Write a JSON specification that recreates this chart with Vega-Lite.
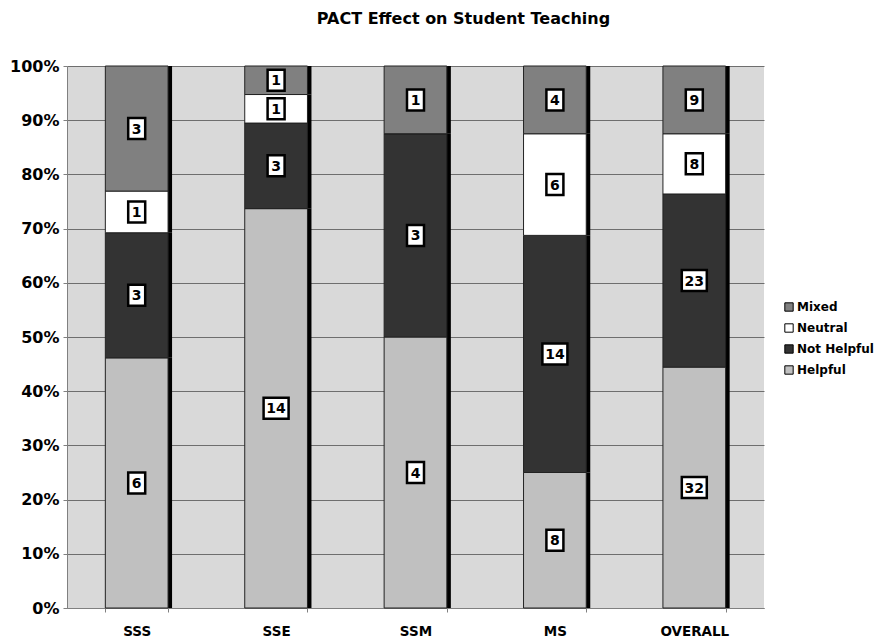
{
  "$schema": "https://vega.github.io/schema/vega-lite/v6.json",
  "width": 697,
  "height": 542,
  "autosize": {"type": "none"},
  "padding": {"left": 67, "top": 66, "right": 111, "bottom": 31},
  "background": "white",
  "title": {"text": "PACT Effect on Student Teaching", "anchor": "middle", "dx": 48, "offset": 31, "font": "DejaVu Sans", "fontSize": 16, "fontWeight": "bold", "color": "black"},
  "config": {
    "view": {"fill": "#d9d9d9", "stroke": null},
    "axis": {"labelFont": "DejaVu Sans", "labelFontWeight": "bold", "labelColor": "black", "titleColor": "black"}
  },
  "data": {"values": [
    {"cat": "SSS", "resp": "Helpful", "n": 6, "ord": 1},
    {"cat": "SSS", "resp": "Not Helpful", "n": 3, "ord": 2},
    {"cat": "SSS", "resp": "Neutral", "n": 1, "ord": 3},
    {"cat": "SSS", "resp": "Mixed", "n": 3, "ord": 4},
    {"cat": "SSE", "resp": "Helpful", "n": 14, "ord": 1},
    {"cat": "SSE", "resp": "Not Helpful", "n": 3, "ord": 2},
    {"cat": "SSE", "resp": "Neutral", "n": 1, "ord": 3},
    {"cat": "SSE", "resp": "Mixed", "n": 1, "ord": 4},
    {"cat": "SSM", "resp": "Helpful", "n": 4, "ord": 1},
    {"cat": "SSM", "resp": "Not Helpful", "n": 3, "ord": 2},
    {"cat": "SSM", "resp": "Neutral", "n": 0, "ord": 3},
    {"cat": "SSM", "resp": "Mixed", "n": 1, "ord": 4},
    {"cat": "MS", "resp": "Helpful", "n": 8, "ord": 1},
    {"cat": "MS", "resp": "Not Helpful", "n": 14, "ord": 2},
    {"cat": "MS", "resp": "Neutral", "n": 6, "ord": 3},
    {"cat": "MS", "resp": "Mixed", "n": 4, "ord": 4},
    {"cat": "OVERALL", "resp": "Helpful", "n": 32, "ord": 1},
    {"cat": "OVERALL", "resp": "Not Helpful", "n": 23, "ord": 2},
    {"cat": "OVERALL", "resp": "Neutral", "n": 8, "ord": 3},
    {"cat": "OVERALL", "resp": "Mixed", "n": 9, "ord": 4}
  ]},
  "transform": [
    {"stack": "n", "groupby": ["cat"], "sort": [{"field": "ord", "order": "ascending"}], "offset": "normalize", "as": ["y0", "y1"]},
    {"calculate": "(datum.y0 + datum.y1) / 2", "as": "mid"}
  ],
  "encoding": {
    "x": {"field": "cat", "type": "nominal", "sort": ["SSS", "SSE", "SSM", "MS", "OVERALL"],
      "scale": {"paddingInner": 0.55, "paddingOuter": 0.275},
      "axis": {"title": null, "labelAngle": 0, "labelFontSize": 13.5, "labelPadding": 12, "tickBand": "extent", "tickColor": "#808080", "tickSize": 4, "domainColor": "#808080", "grid": false}}
  },
  "layer": [
    {
      "mark": {"type": "bar", "color": "black", "xOffset": 4, "x2Offset": 4},
      "encoding": {
        "y": {"field": "y1", "type": "quantitative", "scale": {"domain": [0, 1]},
          "axis": {"title": null, "format": ".0%", "values": [0, 0.1, 0.2, 0.3, 0.4, 0.5, 0.6, 0.7, 0.8, 0.9, 1], "labelFontSize": 16, "labelPadding": 4, "tickColor": "#808080", "tickSize": 4, "domainColor": "#808080", "grid": true, "gridColor": "#6e6e6e", "gridWidth": 1, "gridOpacity": 1}},
        "y2": {"field": "y0"}
      }
    },
    {
      "mark": {"type": "bar", "stroke": "#222222", "strokeWidth": 1},
      "encoding": {
        "y": {"field": "y1", "type": "quantitative"},
        "y2": {"field": "y0"},
        "color": {"field": "resp", "type": "nominal",
          "scale": {"domain": ["Mixed", "Neutral", "Not Helpful", "Helpful"], "range": ["#808080", "#ffffff", "#333333", "#c0c0c0"]},
          "legend": {"title": null, "orient": "none", "legendX": 716, "legendY": 235, "symbolType": "square", "symbolSize": 70, "symbolStrokeColor": "black", "symbolStrokeWidth": 1, "symbolOpacity": 1, "labelFont": "DejaVu Sans", "labelFontWeight": "bold", "labelFontSize": 12, "labelColor": "black", "rowPadding": 7, "labelOffset": 2}}
      }
    },
    {
      "transform": [{"filter": "datum.n > 0 && datum.n < 10"}],
      "mark": {"type": "point", "shape": "M-0.85,-1.05H0.85V1.05H-0.85Z", "filled": true, "fill": "white", "stroke": "black", "strokeWidth": 2.5, "opacity": 1, "size": 400},
      "encoding": {
        "y": {"field": "mid", "type": "quantitative"}
      }
    },
    {
      "transform": [{"filter": "datum.n >= 10"}],
      "mark": {"type": "point", "shape": "M-1.25,-1.05H1.25V1.05H-1.25Z", "filled": true, "fill": "white", "stroke": "black", "strokeWidth": 2.5, "opacity": 1, "size": 400},
      "encoding": {
        "y": {"field": "mid", "type": "quantitative"}
      }
    },
    {
      "transform": [{"filter": "datum.n > 0"}],
      "mark": {"type": "text", "font": "DejaVu Sans", "fontWeight": "bold", "fontSize": 14, "color": "black", "baseline": "middle", "dy": 1},
      "encoding": {
        "y": {"field": "mid", "type": "quantitative"},
        "text": {"field": "n", "type": "quantitative"}
      }
    }
  ]
}
